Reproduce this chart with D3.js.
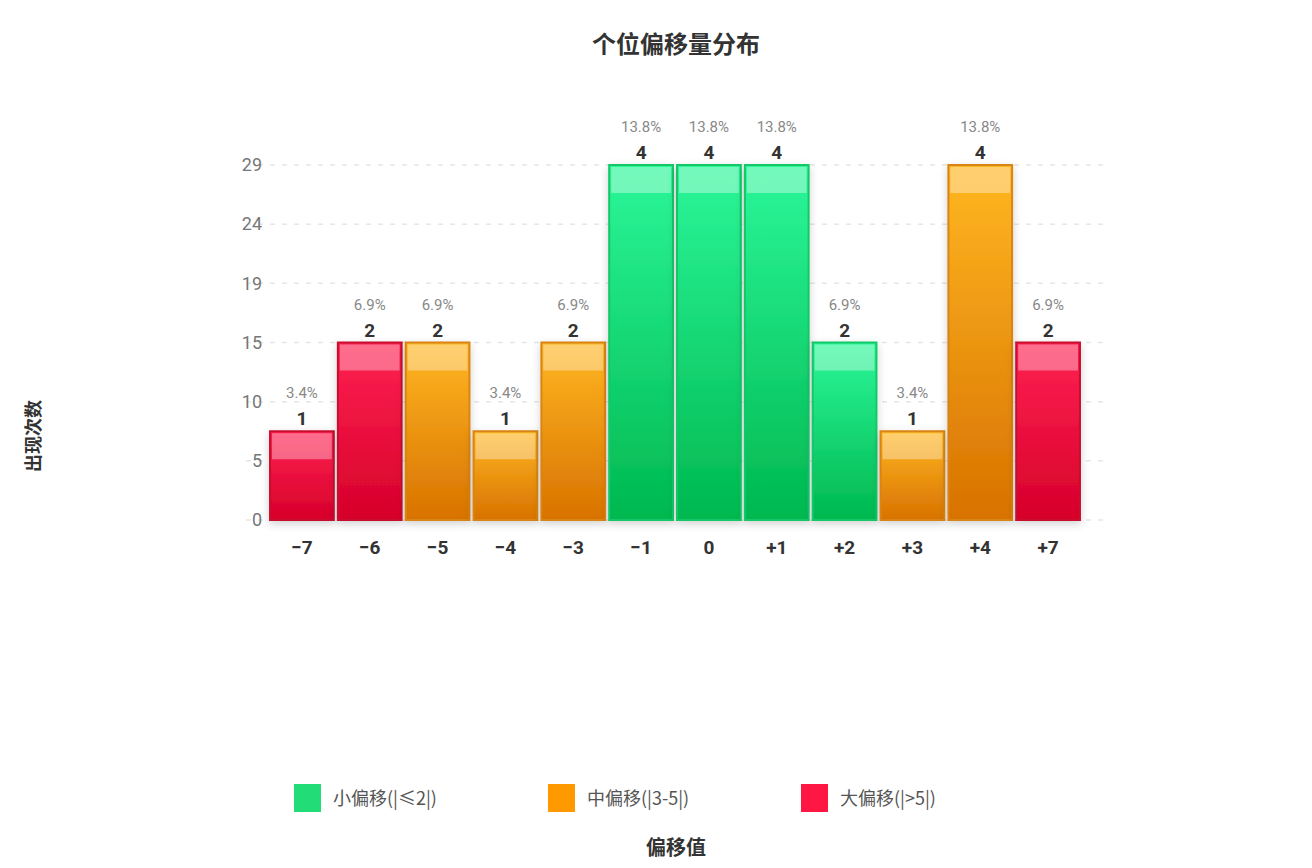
<!DOCTYPE html>
<html>
<head>
<meta charset="utf-8">
<script src="https://cdn.jsdelivr.net/npm/d3@7"></script>
<style>
  body { margin: 0; background: #fff; font-family: Roboto, "Noto Sans CJK SC", sans-serif; }
</style>
</head>
<body>
<svg id="chart"></svg>
<script>
const categories = ["-7", "-6", "-5", "-4", "-3", "-1", "0", "+1", "+2", "+3", "+4", "+7"];
const counts = [1, 2, 2, 1, 2, 4, 4, 4, 2, 1, 4, 2];
const groups = ["large", "large", "mid", "mid", "mid", "small", "small", "small", "small", "mid", "mid", "large"];
const yTickValues = [0, 4 / 6, 8 / 6, 2, 16 / 6, 20 / 6, 4];
const yTickLabels = ["0", "5", "10", "15", "19", "24", "29"];
const legendLabels = ["小偏移(|≤2|)", "中偏移(|3-5|)", "大偏移(|>5|)"];
const legendKeys = ["small", "mid", "large"];

const width = 1312;
const height = 868;
const total = d3.sum(counts);

const palette = {
  small: { top: "#2cf79a", bottom: "#00b84f", stroke: "#12c768", swatch: "#22dd77" },
  mid: { top: "#ffb722", bottom: "#d87200", stroke: "#d88412", swatch: "#ff9900" },
  large: { top: "#ff2152", bottom: "#d6002a", stroke: "#c8102e", swatch: "#ff1744" }
};

const svg = d3.select("#chart").attr("width", width).attr("height", height);
const defs = svg.append("defs");

Object.entries(palette).forEach(([k, c]) => {
  const g = defs.append("linearGradient").attr("id", "grad-" + k)
    .attr("x1", 0).attr("y1", 0).attr("x2", 0).attr("y2", 1);
  g.append("stop").attr("offset", "0%").attr("stop-color", c.top);
  g.append("stop").attr("offset", "100%").attr("stop-color", c.bottom);
});

const shadow = defs.append("filter").attr("id", "shadow")
  .attr("x", "-20%").attr("y", "-10%").attr("width", "140%").attr("height", "130%");
shadow.append("feDropShadow").attr("dx", 0).attr("dy", 3).attr("stdDeviation", 4)
  .attr("flood-color", "#000").attr("flood-opacity", 0.18);

const x = d3.scaleBand().domain(categories).range([268, 1082]).paddingInner(0.06).paddingOuter(0.03);
const y = d3.scaleLinear().domain([0, 4]).range([520, 165]);

// grid
svg.append("g")
  .selectAll("line")
  .data(yTickValues)
  .join("line")
  .attr("x1", 246).attr("x2", 1110)
  .attr("y1", d => y(d)).attr("y2", d => y(d))
  .attr("stroke", "#e6e6e6").attr("stroke-width", 1.5)
  .attr("stroke-dasharray", "5,7");

// y axis labels
svg.append("g")
  .call(d3.axisLeft(y).tickValues(yTickValues).tickFormat((d, i) => yTickLabels[i]).tickSize(0).tickPadding(0))
  .attr("transform", "translate(262,0)")
  .call(g => g.select(".domain").remove())
  .call(g => g.selectAll("text").attr("fill", "#777").attr("font-size", 18)
    .attr("font-family", "Roboto, sans-serif"));

// x axis labels
svg.append("g")
  .attr("transform", "translate(0,540)")
  .call(d3.axisBottom(x).tickSize(0).tickPadding(0).tickFormat(d => d.replace("-", "−")))
  .call(g => g.select(".domain").remove())
  .call(g => g.selectAll("text").attr("fill", "#333").attr("font-size", 19)
    .attr("font-weight", "bold").attr("font-family", "Roboto, sans-serif"));

const data = categories.map((c, i) => ({ cat: c, v: counts[i], g: groups[i] }));

const bars = svg.append("g").selectAll("g.bar").data(data).join("g").attr("class", "bar");

bars.append("rect")
  .attr("x", d => x(d.cat))
  .attr("y", d => y(d.v))
  .attr("width", x.bandwidth())
  .attr("height", d => y(0) - y(d.v))
  .attr("fill", d => `url(#grad-${d.g})`)
  .attr("stroke", d => palette[d.g].stroke)
  .attr("stroke-width", 2)
  .attr("filter", "url(#shadow)");

// top highlight
bars.append("rect")
  .attr("x", d => x(d.cat) + 2)
  .attr("y", d => y(d.v) + 2)
  .attr("width", x.bandwidth() - 4)
  .attr("height", 26)
  .attr("fill", "#fff")
  .attr("opacity", 0.35);

bars.append("text")
  .attr("x", d => x(d.cat) + x.bandwidth() / 2)
  .attr("y", d => y(d.v) - 6)
  .attr("text-anchor", "middle")
  .attr("font-size", 19).attr("font-weight", "bold").attr("fill", "#333")
  .text(d => d.v);

bars.append("text")
  .attr("x", d => x(d.cat) + x.bandwidth() / 2)
  .attr("y", d => y(d.v) - 33)
  .attr("text-anchor", "middle")
  .attr("font-size", 15).attr("fill", "#888")
  .text(d => (d.v / total * 100).toFixed(1) + "%");

// title
svg.append("text")
  .attr("x", 676).attr("y", 53)
  .attr("text-anchor", "middle")
  .attr("font-size", 24).attr("font-weight", "bold").attr("fill", "#333")
  .attr("font-family", "'Noto Sans CJK SC', sans-serif")
  .text("个位偏移量分布");

// y axis title
svg.append("text")
  .attr("transform", "translate(40,436) rotate(-90)")
  .attr("text-anchor", "middle")
  .attr("font-size", 18).attr("font-weight", "bold").attr("fill", "#333")
  .attr("font-family", "'Noto Sans CJK SC', sans-serif")
  .text("出现次数");

// x axis title
svg.append("text")
  .attr("x", 676).attr("y", 855)
  .attr("text-anchor", "middle")
  .attr("font-size", 20).attr("font-weight", "bold").attr("fill", "#333")
  .attr("font-family", "'Noto Sans CJK SC', sans-serif")
  .text("偏移值");

// legend
const legendX = [294, 548, 801];
const legend = svg.append("g").selectAll("g").data(legendKeys).join("g")
  .attr("transform", (d, i) => `translate(${legendX[i]},784)`);
legend.append("rect")
  .attr("width", 27).attr("height", 28)
  .attr("fill", d => palette[d].swatch);
legend.append("text")
  .attr("x", 39).attr("y", 21)
  .attr("font-size", 18).attr("fill", "#555")
  .attr("font-family", "'Noto Sans CJK SC', sans-serif")
  .text((d, i) => legendLabels[i]);
</script>
</body>
</html>
